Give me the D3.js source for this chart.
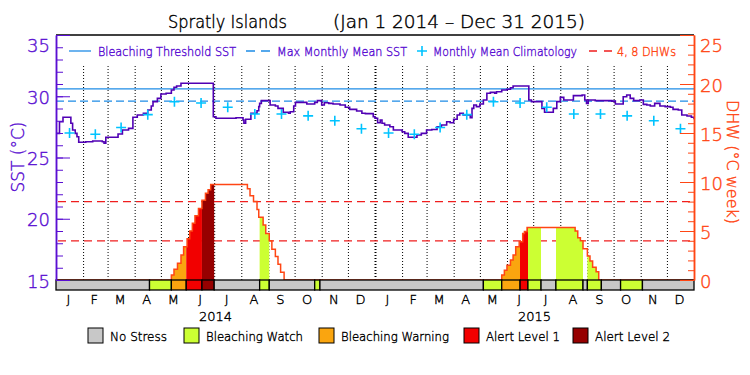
<!DOCTYPE html>
<html>
<head>
<meta charset="utf-8">
<script src="https://cdnjs.cloudflare.com/ajax/libs/d3/7.8.5/d3.min.js"></script>
<style>
  body { margin: 0; background: #fff; }
  svg { display: block; font-family: "DejaVu Sans", sans-serif; font-weight: 200; }
  svg text { font-weight: 200; stroke-width: 0.4px; }
</style>
</head>
<body>
<svg id="chart" width="750" height="375"></svg>
<script>
// ---- data ----
const monthLabels = ['J', 'F', 'M', 'A', 'M', 'J', 'J', 'A', 'S', 'O', 'N', 'D'];
const yearLabels = ['2014', '2015'];

// monthly mean climatology (°C), Jan..Dec
const climatology = [27.0, 26.9, 27.45, 28.5, 29.55, 29.45, 29.1, 28.55, 28.55, 28.4, 28.0, 27.35];
const maxMonthlyMean = 29.6;
const bleachingThreshold = 30.6;
const dhwLevels = [4, 8];

// SST, day number counted from Jan 1 2014
const sstDay = [0, 4, 8, 17, 19, 22, 24, 26, 34, 42, 53, 55, 57, 71, 76, 83, 88, 93, 100, 105,
  109, 111, 116, 120, 126, 132, 135, 138, 143, 180, 183, 206, 214, 215, 217, 223, 230, 232, 233, 235,
  245, 251, 254, 260, 266, 268, 272, 274, 287, 296, 299, 304, 307, 312, 317, 325, 331, 336, 344, 350,
  354, 363, 365, 368, 371, 373, 376, 382, 386, 396, 399, 403, 413, 418, 424, 430, 436, 441, 447, 451,
  455, 459, 462, 466, 474, 476, 478, 481, 485, 489, 493, 497, 502, 504, 510, 516, 520, 523, 541, 544,
  556, 559, 569, 573, 577, 581, 592, 602, 605, 607, 609, 617, 636, 640, 649, 653, 657, 661, 668, 672,
  676, 680, 685, 691, 697, 703, 706, 712, 716, 722, 727, 730];
const sstValue = [26.97, 27.92, 28.28, 27.79, 27.24, 26.97, 26.7, 26.24, 26.29, 26.35, 26.29, 26.16, 26.65, 26.92, 27.24, 27.38, 28.28, 28.47, 28.61, 28.88,
  29.2, 29.56, 29.83, 30.18, 30.24, 30.51, 30.73, 30.84, 31.06, 28.33, 28.2, 28.25, 28.06, 27.79, 28.12, 28.61, 28.82, 29.15, 29.42, 29.64,
  29.29, 29.2, 29.01, 28.69, 28.61, 28.74, 29.2, 29.5, 29.37, 29.5, 29.64, 29.29, 29.47, 29.42, 29.37, 29.29, 29.1, 28.93, 28.8, 28.61,
  28.58, 28.33, 28.2, 27.84, 28.06, 27.79, 27.65, 27.51, 27.24, 27.1, 26.97, 26.65, 26.84, 26.97, 27.24, 27.29, 27.51, 27.65, 27.92, 27.84,
  28.12, 28.47, 28.61, 28.47, 28.25, 29.01, 29.29, 29.15, 29.37, 29.69, 30.24, 30.32, 30.24, 30.37, 30.51, 30.57, 30.7, 30.84, 29.69, 29.56,
  29.01, 28.69, 29.01, 29.56, 29.91, 29.69, 30.05, 30.1, 29.69, 29.42, 29.69, 29.64, 29.6, 29.37, 29.96, 30.1, 29.83, 29.64, 29.69, 29.34,
  29.29, 29.2, 29.42, 29.2, 29.15, 29.1, 28.93, 28.88, 28.47, 28.39, 28.28, 28.12];

// degree heating weeks
const dhwDay = [0, 132, 135, 139, 143, 146, 150, 153, 156, 159, 163, 167, 171, 174, 177, 219, 222, 226, 230, 232,
  237, 240, 244, 247, 251, 254, 257, 261, 510, 513, 516, 520, 523, 526, 530, 534, 536, 539, 594, 597,
  600, 603, 608, 611, 614, 618, 621, 730];
const dhwValue = [0, 0.5, 1.1, 1.7, 2.55, 3.4, 4.2, 5.0, 5.8, 6.55, 7.3, 8.15, 8.85, 9.2, 9.75, 9.3, 8.6, 8.0, 7.2, 6.4,
  5.6, 4.75, 4.0, 3.15, 2.4, 1.6, 0.8, 0, 0.5, 1.0, 1.5, 2.05, 2.55, 3.4, 3.9, 4.75, 4.95, 5.35, 5.0, 4.3,
  4.0, 3.2, 2.45, 1.95, 1.3, 0.85, 0, 0];

// stress level periods (start day, level 0..4)
const stressDay = [0, 107, 132, 149, 167, 181, 233, 244, 296, 302, 489, 510, 531, 540, 555, 572, 603, 608, 624, 646, 671];
const stressLevel = [0, 1, 2, 3, 4, 0, 1, 0, 1, 0, 1, 2, 3, 1, 0, 1, 0, 1, 0, 1, 0];
const stressNames = ['No Stress', 'Bleaching Watch', 'Bleaching Warning', 'Alert Level 1', 'Alert Level 2'];

// ---- styles ----
const stressColors = ['#c8c8c8', '#ccff33', '#faa50f', '#f20000', '#960000'];
const purple = '#5a0fd2';
const sstColor = '#5000b4';
const blue = '#1e8ce6';
const cyan = '#00c3ff';
const orange = '#ff4614';
const dhwRed = '#f01e1e';

const margin = { top: 35, bottom: 95, left: 56, right: 56 };
const W = 750, H = 375;
const svg = d3.select('#chart');

const t0 = Date.UTC(2014, 0, 1);
const dayDate = (d) => new Date(t0 + d * 864e5);

const x = d3.scaleUtc()
  .domain([new Date(t0), new Date(Date.UTC(2016, 0, 1))])
  .range([margin.left, W - margin.right]);
const ySst = d3.scaleLinear().domain([15, 35]).range([H - margin.bottom, margin.top]);
const yDhw = d3.scaleLinear().domain([0, 25]).range([H - margin.bottom, margin.top]);
const y0 = H - margin.bottom;
const barH = 10;

// top frame line
svg.append('line')
  .attr('x1', margin.left).attr('x2', W - margin.right)
  .attr('y1', margin.top).attr('y2', margin.top)
  .attr('stroke', '#000').attr('stroke-width', 1.5);

// dotted month grid
const monthStarts = d3.utcMonth.range(dayDate(1), new Date(Date.UTC(2016, 0, 1)));
svg.append('g').selectAll('line')
  .data(monthStarts)
  .join('line')
  .attr('x1', (d) => x(d) + 0.5).attr('x2', (d) => x(d) + 0.5)
  .attr('y1', 66).attr('y2', y0)
  .attr('stroke', '#000')
  .attr('stroke-width', (d) => (d.getUTCMonth() === 0 ? 2 : 1))
  .attr('stroke-dasharray', '1,2');

// DHW reference lines
svg.append('g').selectAll('line')
  .data(dhwLevels)
  .join('line')
  .attr('x1', margin.left + 2).attr('x2', W - margin.right)
  .attr('y1', (d) => yDhw(d)).attr('y2', (d) => yDhw(d))
  .attr('stroke', dhwRed).attr('stroke-width', 1.3)
  .attr('stroke-dasharray', '8,5');

// MMM and threshold
svg.append('line')
  .attr('x1', margin.left).attr('x2', W - margin.right)
  .attr('y1', ySst(maxMonthlyMean)).attr('y2', ySst(maxMonthlyMean))
  .attr('stroke', blue).attr('stroke-width', 1.3).attr('stroke-dasharray', '8,4');
svg.append('line')
  .attr('x1', margin.left).attr('x2', W - margin.right)
  .attr('y1', ySst(bleachingThreshold)).attr('y2', ySst(bleachingThreshold))
  .attr('stroke', blue).attr('stroke-width', 1.3);

// stress periods
const segments = stressDay.map((d, i) => ({
  start: d,
  end: i < stressDay.length - 1 ? stressDay[i + 1] : 730,
  level: stressLevel[i],
}));

const dhwData = dhwDay.map((d, i) => ({ date: dayDate(d), v: dhwValue[i] }));
const dhwArea = d3.area()
  .curve(d3.curveStepAfter)
  .x((d) => x(d.date))
  .y0(y0)
  .y1((d) => yDhw(d.v));

const defs = svg.append('defs');
segments.forEach((s, i) => {
  if (s.level === 0) return;
  defs.append('clipPath').attr('id', 'seg' + i)
    .append('rect')
    .attr('x', x(dayDate(s.start))).attr('y', 0)
    .attr('width', x(dayDate(s.end)) - x(dayDate(s.start))).attr('height', H);
  svg.append('path')
    .datum(dhwData)
    .attr('clip-path', `url(#seg${i})`)
    .attr('d', dhwArea)
    .attr('fill', stressColors[s.level]);
});

// DHW outline
svg.append('path')
  .datum(dhwData)
  .attr('d', d3.line().curve(d3.curveStepAfter).x((d) => x(d.date)).y((d) => yDhw(d.v)))
  .attr('fill', 'none')
  .attr('stroke', orange)
  .attr('stroke-width', 1.5);

// SST line
const sstData = sstDay.map((d, i) => ({ date: dayDate(d), v: sstValue[i] }));
svg.append('path')
  .datum(sstData)
  .attr('d', d3.line().curve(d3.curveStepAfter).x((d) => x(d.date)).y((d) => ySst(d.v)))
  .attr('fill', 'none')
  .attr('stroke', sstColor)
  .attr('stroke-width', 1.6);

// climatology crosses, both years
const climData = [];
[2014, 2015].forEach((yr) => {
  climatology.forEach((v, m) => {
    const a = new Date(Date.UTC(yr, m, 1));
    const b = new Date(Date.UTC(yr, m + 1, 1));
    climData.push({ xm: (x(a) + x(b)) / 2, v });
  });
});
svg.append('g').selectAll('path')
  .data(climData)
  .join('path')
  .attr('transform', (d) => `translate(${d.xm},${ySst(d.v)})`)
  .attr('d', 'M-5,0H5M0,-5V5')
  .attr('stroke', cyan)
  .attr('stroke-width', 1.6);

// stress bar
svg.append('g').selectAll('rect')
  .data(segments)
  .join('rect')
  .attr('x', (d) => x(dayDate(d.start)))
  .attr('width', (d) => x(dayDate(d.end)) - x(dayDate(d.start)))
  .attr('y', y0).attr('height', barH)
  .attr('fill', (d) => stressColors[d.level])
  .attr('stroke', '#000').attr('stroke-width', 1.3);

// left axis
const gLeft = svg.append('g').attr('transform', `translate(${margin.left},0)`).attr('color', purple);
gLeft.call(d3.axisLeft(ySst).tickValues(d3.range(15, 36)).tickSize(-7).tickSizeOuter(0).tickFormat(''));
gLeft.append('g').call(d3.axisLeft(ySst).tickValues([15, 20, 25, 30, 35]).tickSize(-14).tickSizeOuter(0).tickPadding(6));
gLeft.selectAll('path.domain').attr('stroke-width', 1.5);
gLeft.selectAll('text')
  .attr('font-family', '"DejaVu Sans", sans-serif')
  .attr('font-size', 18)
  .attr('stroke', purple)
  .attr('dy', (d) => (d === 35 ? '0.9em' : '0.4em'));

// right axis
const gRight = svg.append('g').attr('transform', `translate(${W - margin.right},0)`).attr('color', orange);
gRight.call(d3.axisRight(yDhw).tickValues(d3.range(0, 26)).tickSize(-6).tickSizeOuter(0).tickFormat(''));
gRight.append('g').call(d3.axisRight(yDhw).tickValues([0, 5, 10, 15, 20, 25]).tickSize(-14).tickSizeOuter(0).tickPadding(6));
gRight.selectAll('path.domain').attr('stroke-width', 1.5);
gRight.selectAll('text')
  .attr('font-family', '"DejaVu Sans", sans-serif')
  .attr('font-size', 18)
  .attr('stroke', orange)
  .attr('dy', (d) => (d === 25 ? '0.9em' : '0.4em'));

// axis titles
svg.append('text')
  .attr('transform', 'translate(24,157) rotate(-90)')
  .attr('text-anchor', 'middle')
  .attr('fill', purple).attr('stroke', purple).attr('font-size', 17)
  .text('SST (°C)');
svg.append('text')
  .attr('transform', 'translate(727,162) rotate(90)')
  .attr('text-anchor', 'middle')
  .attr('fill', orange).attr('stroke', orange).attr('font-size', 16)
  .text('DHW (°C week)');

// title
svg.append('text').attr('x', 168).attr('y', 28).attr('font-size', 17).attr('stroke', '#000')
  .attr('textLength', 119).attr('lengthAdjust', 'spacingAndGlyphs')
  .text('Spratly Islands');
svg.append('text').attr('x', 333).attr('y', 28).attr('font-size', 17).attr('stroke', '#000')
  .attr('textLength', 252).attr('lengthAdjust', 'spacingAndGlyphs')
  .text('(Jan 1 2014 – Dec 31 2015)');

// month and year labels
const monthCenters = [];
[2014, 2015].forEach((yr) => {
  monthLabels.forEach((lab, m) => {
    const a = new Date(Date.UTC(yr, m, 1));
    const b = new Date(Date.UTC(yr, m + 1, 1));
    monthCenters.push({ lab, xm: (x(a) + x(b)) / 2 });
  });
});
svg.append('g').attr('stroke', '#000').selectAll('text')
  .data(monthCenters)
  .join('text')
  .attr('x', (d) => d.xm - 1).attr('y', 304)
  .attr('text-anchor', 'middle').attr('font-size', 13)
  .text((d) => d.lab);
svg.append('g').attr('stroke', '#000').selectAll('text')
  .data(yearLabels)
  .join('text')
  .attr('x', (d) => (x(new Date(Date.UTC(+d, 0, 1))) + x(new Date(Date.UTC(+d + 1, 0, 1)))) / 2)
  .attr('y', 321)
  .attr('text-anchor', 'middle').attr('font-size', 13)
  .text((d) => d);

// top legend
const lgY = 51;
const gLeg = svg.append('g').attr('font-size', 12.5);
gLeg.append('line').attr('x1', 69).attr('x2', 91).attr('y1', lgY).attr('y2', lgY)
  .attr('stroke', blue).attr('stroke-width', 1.3);
gLeg.append('text').attr('x', 98).attr('y', lgY + 4.5).attr('fill', purple).attr('stroke', purple)
  .attr('textLength', 138).attr('lengthAdjust', 'spacingAndGlyphs').text('Bleaching Threshold SST');
gLeg.append('line').attr('x1', 246).attr('x2', 270).attr('y1', lgY).attr('y2', lgY)
  .attr('stroke', blue).attr('stroke-width', 1.3).attr('stroke-dasharray', '9,6');
gLeg.append('text').attr('x', 277).attr('y', lgY + 4.5).attr('fill', purple).attr('stroke', purple)
  .attr('textLength', 130).attr('lengthAdjust', 'spacingAndGlyphs').text('Max Monthly Mean SST');
gLeg.append('path').attr('transform', `translate(422,${lgY})`).attr('d', 'M-5,0H5M0,-5V5')
  .attr('stroke', cyan).attr('stroke-width', 1.6);
gLeg.append('text').attr('x', 433).attr('y', lgY + 4.5).attr('fill', purple).attr('stroke', purple)
  .attr('textLength', 144).attr('lengthAdjust', 'spacingAndGlyphs').text('Monthly Mean Climatology');
gLeg.append('line').attr('x1', 589).attr('x2', 612).attr('y1', lgY).attr('y2', lgY)
  .attr('stroke', dhwRed).attr('stroke-width', 1.3).attr('stroke-dasharray', '8,7');
gLeg.append('text').attr('x', 617).attr('y', lgY + 4.5).attr('fill', orange).attr('stroke', orange)
  .attr('textLength', 59).attr('lengthAdjust', 'spacingAndGlyphs').text('4, 8 DHWs');

// bottom legend
const boxX = [88, 184, 319, 464, 573];
const textLen = [57, 97, 108, 74, 75];
const gBot = svg.append('g').attr('font-size', 13);
stressNames.forEach((name, i) => {
  gBot.append('rect').attr('x', boxX[i]).attr('y', 328).attr('width', 15).attr('height', 15)
    .attr('fill', stressColors[i]).attr('stroke', '#000').attr('stroke-width', 1);
  gBot.append('text').attr('x', boxX[i] + 22).attr('y', 340.5).attr('stroke', '#000')
    .attr('textLength', textLen[i]).attr('lengthAdjust', 'spacingAndGlyphs').text(name);
});
</script>
</body>
</html>
